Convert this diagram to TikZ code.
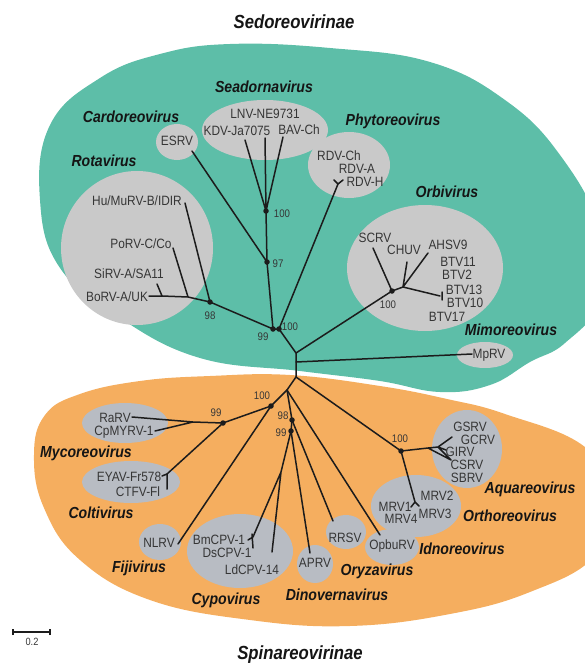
\documentclass[tikz,border=0pt]{standalone}
\usepackage{fontspec}
\setmainfont{Liberation Sans}[FakeStretch=0.88]
\definecolor{greenbg}{HTML}{5DBEA8}
\definecolor{orangebg}{HTML}{F5AE5F}
\definecolor{grayA}{HTML}{C9C9C9}
\definecolor{grayB}{HTML}{B8BCC3}
\definecolor{linec}{HTML}{1C1C1C}
\definecolor{leafc}{HTML}{363636}
\definecolor{genc}{HTML}{151515}
\tikzset{
  leaf/.style={font=\fontsize{13.5}{14}\selectfont, text=leafc, inner sep=0pt},
  genus/.style={font=\fontsize{16}{17}\selectfont\bfseries\itshape, text=genc, inner sep=0pt},
  titlef/.style={font=\fontsize{19}{20}\selectfont\bfseries\itshape, text=genc, inner sep=0pt},
  boot/.style={font=\fontsize{11}{12}\selectfont, text=leafc, inner sep=0pt},
  br/.style={line width=1.5pt, draw=linec, line cap=round},
  dotn/.style={circle, fill=linec, inner sep=0pt, minimum size=5.5pt},
  blobg/.style={fill=grayA},
  blobo/.style={fill=grayB}
}
\begin{document}
\begin{tikzpicture}[x=1pt,y=-1pt]
\useasboundingbox (0,0) rectangle (585,666);
\clip (0,0) rectangle (585,666);
% backgrounds
\fill[greenbg] plot[smooth cycle, tension=0.7] coordinates {(230,44) (330,48) (430,62) (505,100) (560,155) (600,230) (600,300) (565,343) (530,362) (490,385) (440,392) (380,381) (300,371) (200,358) (120,318) (60,268) (40,200) (50,125) (100,78) (160,54)};
\fill[orangebg] plot[smooth cycle, tension=0.7] coordinates {(290,375) (380,386) (447,399) (505,414) (585,447) (615,500) (595,556) (530,592) (450,614) (350,626) (250,620) (150,600) (80,560) (44,508) (34,455) (45,415) (80,394) (140,381) (210,376)};
% gray blobs
\fill[blobg] (177,142) ellipse [x radius=21, y radius=18];
\fill[blobg] (265,130) ellipse [x radius=63, y radius=30];
\fill[blobg] (349,165) ellipse [x radius=41, y radius=33];
\fill[blobg] (137,248) ellipse [x radius=76, y radius=77];
\fill[blobg] (425,268) ellipse [x radius=78, y radius=63];
\fill[blobg] (485,355) ellipse [x radius=28, y radius=13];
\fill[blobo] (125,423) ellipse [x radius=43, y radius=20];
\fill[blobo] (131,482) ellipse [x radius=49, y radius=21];
\fill[blobo] (160,542) ellipse [x radius=21, y radius=18];
\fill[blobo] (240,551) ellipse [x radius=53, y radius=37];
\fill[blobo] (315,564) ellipse [x radius=18, y radius=19];
\fill[blobo] (346,532) ellipse [x radius=20, y radius=17];
\fill[blobo] (392,547) ellipse [x radius=27, y radius=18];
\fill[blobo] (416,506) ellipse [x radius=45, y radius=31];
\fill[blobo] (467,449) ellipse [x radius=35, y radius=39];
% titles
\node[titlef] (tSedo) at (294,22) {Sedoreovirinae};
\node[titlef] (tSpin) at (300,655) {Spinareovirinae};
% genus labels
\node[genus] (gSea) at (264,87) {Seadornavirus};
\node[genus] (gCar) at (131,117) {Cardoreovirus};
\node[genus] (gRot) at (104,161) {Rotavirus};
\node[genus] (gPhy) at (393,121) {Phytoreovirus};
\node[genus] (gOrb) at (447,192) {Orbivirus};
\node[genus] (gMim) at (511,330) {Mimoreovirus};
\node[genus] (gMyc) at (86,453) {Mycoreovirus};
\node[genus] (gCol) at (101,513) {Coltivirus};
\node[genus] (gFij) at (139,568) {Fijivirus};
\node[genus] (gCyp) at (226,600) {Cypovirus};
\node[genus] (gDin) at (337,595) {Dinovernavirus};
\node[genus] (gOry) at (377,571) {Oryzavirus};
\node[genus] (gIdn) at (462,549) {Idnoreovirus};
\node[genus] (gOrt) at (510,516) {Orthoreovirus};
\node[genus] (gAqu) at (530,489) {Aquareovirus};
% leaf labels
\node[leaf] (lLNV) at (265,114) {LNV-NE9731};
\node[leaf] (lKDV) at (237,131) {KDV-Ja7075};
\node[leaf] (lBAV) at (299,130) {BAV-Ch};
\node[leaf] (lRDVC) at (339,156) {RDV-Ch};
\node[leaf] (lRDVA) at (357,169) {RDV-A};
\node[leaf] (lRDVH) at (365,182) {RDV-H};
\node[leaf] (lESRV) at (177,141) {ESRV};
\node[leaf] (lHu) at (137,201) {Hu/MuRV-B/IDIR};
\node[leaf] (lPo) at (141,244) {PoRV-C/Co};
\node[leaf] (lSi) at (129,274) {SiRV-A/SA11};
\node[leaf] (lBo) at (117,297) {BoRV-A/UK};
\node[leaf] (lSC) at (375,238) {SCRV};
\node[leaf] (lCH) at (404,250) {CHUV};
\node[leaf] (lAH) at (448,245) {AHSV9};
\node[leaf] (lB11) at (458,262) {BTV11};
\node[leaf] (lB2) at (457,275) {BTV2};
\node[leaf] (lB13) at (464,290) {BTV13};
\node[leaf] (lB10) at (465,303) {BTV10};
\node[leaf] (lB17) at (447,317) {BTV17};
\node[leaf] (lMp) at (489,355) {MpRV};
\node[leaf] (lRa) at (115,418) {RaRV};
\node[leaf] (lCp) at (124,432) {CpMYRV-1};
\node[leaf] (lEY) at (129,477) {EYAV-Fr578};
\node[leaf] (lCT) at (138,492) {CTFV-Fl};
\node[leaf] (lNL) at (159,543) {NLRV};
\node[leaf] (lBm) at (219,540) {BmCPV-1};
\node[leaf] (lDs) at (227,553) {DsCPV-1};
\node[leaf] (lLd) at (252,570) {LdCPV-14};
\node[leaf] (lAP) at (315,563) {APRV};
\node[leaf] (lRR) at (345,538) {RRSV};
\node[leaf] (lOp) at (392,546) {OpbuRV};
\node[leaf] (lGS) at (470,427) {GSRV};
\node[leaf] (lGC) at (478,440) {GCRV};
\node[leaf] (lGI) at (460,452) {GIRV};
\node[leaf] (lCS) at (467,465) {CSRV};
\node[leaf] (lSB) at (467,478) {SBRV};
\node[leaf] (lM2) at (437,496) {MRV2};
\node[leaf] (lM1) at (395,507) {MRV1};
\node[leaf] (lM4) at (401,519) {MRV4};
\node[leaf] (lM3) at (435,514) {MRV3};
% bootstrap labels
\node[boot] (b1) at (282,214) {100};
\node[boot] (b2) at (278,264) {97};
\node[boot] (b3) at (210,316) {98};
\node[boot] (b4) at (263,337) {99};
\node[boot] (b5) at (290,327) {100};
\node[boot] (b6) at (388,305) {100};
\node[boot] (b7) at (262,396) {100};
\node[boot] (b8) at (216,413) {99};
\node[boot] (b9) at (283,416) {98};
\node[boot] (b10) at (281,433) {99};
\node[boot] (b11) at (400,439) {100};
% tree coordinates
\coordinate (tK) at (245,140);
\coordinate (tL) at (265,138);
\coordinate (tB) at (283,137);
\coordinate (tE) at (192,151);
\coordinate (tP) at (338,184);
\coordinate (tPa) at (334,180);
\coordinate (tPb) at (343,180);
\coordinate (tHu) at (185,203);
\coordinate (R1) at (188,297);
\coordinate (tPo) at (173,248);
\coordinate (R2) at (162,296);
\coordinate (tSi) at (157,284);
\coordinate (tBo) at (149,296);
\coordinate (tSC) at (373,248);
\coordinate (O1) at (403,287);
\coordinate (tCH) at (407,262);
\coordinate (tAH) at (428,253);
\coordinate (tBT) at (440,296);
\coordinate (tBTa) at (442,292);
\coordinate (tBTb) at (442,300);
\coordinate (tMp) at (472,354);
\coordinate (J1) at (296,353);
\coordinate (J1b) at (296,362);
\coordinate (J2) at (296,377);
\coordinate (J3) at (287,390);
\coordinate (M1) at (193,422);
\coordinate (tRa) at (132,417);
\coordinate (tCp) at (155,431);
\coordinate (C1) at (167,474);
\coordinate (tEY) at (162,476);
\coordinate (tCT) at (167,489);
\coordinate (tNL) at (178,544);
\coordinate (Cn) at (281,472);
\coordinate (tBm) at (253,537);
\coordinate (tBmL) at (248,540);
\coordinate (tBmA) at (252,534);
\coordinate (tBmB) at (253,548);
\coordinate (tLd) at (272,552);
\coordinate (tAP) at (310,553);
\coordinate (tRR) at (333,521);
\coordinate (tOp) at (380,535);
\coordinate (A1) at (428,448);
\coordinate (A2) at (438,447);
\coordinate (tGS) at (452,437);
\coordinate (tGI) at (446,450);
\coordinate (tCS) at (451,460);
\coordinate (tO) at (415,502);
\coordinate (tOa) at (411,507);
\coordinate (tOb) at (419,506);
% dot nodes
\node[dotn] (nSea) at (266,211) {};
\node[dotn] (n97) at (267,262) {};
\node[dotn] (nRot) at (210,302) {};
\node[dotn] (n99g) at (273,329) {};
\node[dotn] (n100g) at (279,329) {};
\node[dotn] (nOrb) at (392,291) {};
\node[dotn] (n100o) at (271,406) {};
\node[dotn] (n99m) at (223,423) {};
\node[dotn] (n98o) at (292,420) {};
\node[dotn] (n99c) at (291,431) {};
\node[dotn] (nAq) at (401,451) {};
% branches
\draw[br] (nSea.center) -- (tK) (nSea.center) -- (tL) (nSea.center) -- (tB);
\draw[br] (nSea.center) -- (n97.center) -- (n99g.center);
\draw[br] (n97.center) -- (tE);
\draw[br] (n99g.center) -- (nRot.center);
\draw[br] (nRot.center) -- (tHu) (nRot.center) -- (R1) -- (tPo) (R1) -- (R2) -- (tSi) (R2) -- (tBo);
\draw[br] (n99g.center) -- (n100g.center) -- (tP) -- (tPa) (tP) -- (tPb);
\draw[br] (n100g.center) -- (J1) -- (J1b) -- (J2);
\draw[br] (J1) -- (nOrb.center) -- (tSC) (nOrb.center) -- (O1) -- (tCH) (O1) -- (tAH) (O1) -- (tBT) (tBTa) -- (tBTb);
\draw[br] (J1b) -- (tMp);
\draw[br] (J2) -- (J3) -- (n100o.center);
\draw[br] (n100o.center) -- (n99m.center) -- (M1) -- (tRa) (M1) -- (tCp);
\draw[br] (n99m.center) -- (C1) -- (tEY) (C1) -- (tCT);
\draw[br] (n100o.center) -- (tNL);
\draw[br] (J3) -- (n98o.center) -- (n99c.center) -- (Cn) -- (tBm) (tBmA) -- (tBmB) (tBm) -- (tBmL) (Cn) -- (tLd);
\draw[br] (n99c.center) -- (tAP);
\draw[br] (n98o.center) -- (tRR);
\draw[br] (J3) -- (tOp);
\draw[br] (J2) -- (nAq.center) -- (A1) -- (A2) -- (tGS) (A2) -- (tGI) (A2) -- (tCS) (A1) -- (tCS);
\draw[br] (nAq.center) -- (tO) -- (tOa) (tO) -- (tOb);
% scale bar
\coordinate (sL) at (13,632);
\coordinate (sR) at (50,632);
\draw[line width=1.1pt, draw=linec] (sL) -- (sR);
\draw[line width=1.1pt, draw=linec] ([yshift=-3]sL) -- ([yshift=3]sL) ([yshift=-3]sR) -- ([yshift=3]sR);
\node[font=\fontsize{10.5}{11}\selectfont, text=leafc, inner sep=0pt] (sLab) at (32,642) {0.2};
\end{tikzpicture}
\end{document}
